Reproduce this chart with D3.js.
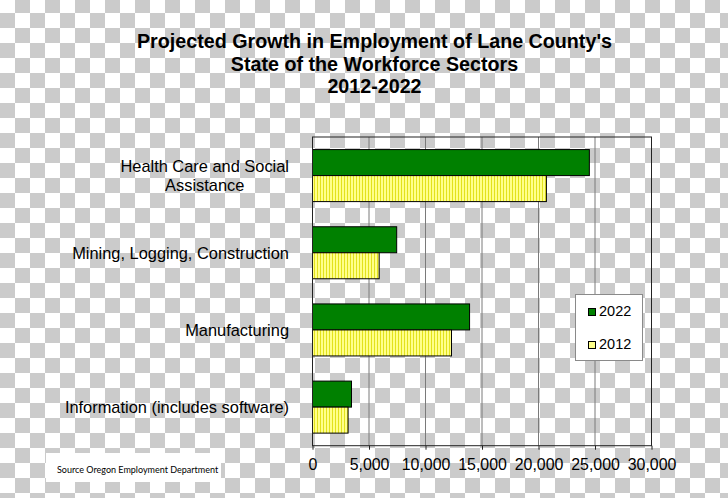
<!DOCTYPE html>
<html>
<head>
<meta charset="utf-8">
<script src="https://cdn.jsdelivr.net/npm/d3@7"></script>
<style>
  html, body { margin: 0; padding: 0; background: #fff; }
  svg { display: block; }
  text { font-family: "Liberation Sans", Arial, sans-serif; fill: #000; }
</style>
</head>
<body>
<div id="chart"></div>
<script>
// ---- data ----
const titleLines = ["Projected Growth in Employment of Lane County's", "State of the Workforce Sectors", "2012-2022"];
const categories = ["Health Care and Social Assistance", "Mining, Logging, Construction", "Manufacturing", "Information (includes software)"];
const categoryLabelLines = [["Health Care and Social", "Assistance"], ["Mining, Logging, Construction"], ["Manufacturing"], ["Information (includes software)"]];
const seriesNames = ["2022", "2012"];
const values2022 = [24500, 7450, 13900, 3450];
const values2012 = [20700, 5900, 12300, 3150];
const xTicks = [0, 5000, 10000, 15000, 20000, 25000, 30000];
const sourceNote = "Source Oregon Employment Department";

(function () {
const W = 728, H = 498;
const svg = d3.select("#chart").append("svg").attr("width", W).attr("height", H);
const defs = svg.append("defs");

// transparency checkerboard
const chk = defs.append("pattern").attr("id", "checker").attr("patternUnits", "userSpaceOnUse")
  .attr("x", 0).attr("y", -2).attr("width", 30).attr("height", 30);
chk.append("rect").attr("width", 30).attr("height", 30).attr("fill", "#ffffff");
chk.append("rect").attr("x", 15).attr("y", 0).attr("width", 15).attr("height", 15).attr("fill", "#cbcbcb");
chk.append("rect").attr("x", 0).attr("y", 15).attr("width", 15).attr("height", 15).attr("fill", "#cbcbcb");

// yellow vertical-line fill
const yp = defs.append("pattern").attr("id", "yellowLines").attr("patternUnits", "userSpaceOnUse")
  .attr("width", 3).attr("height", 10);
yp.append("rect").attr("width", 3).attr("height", 10).attr("fill", "#ffff8a");
yp.append("rect").attr("x", 2).attr("width", 1).attr("height", 10).attr("fill", "#e2e21c");

svg.append("rect").attr("width", W).attr("height", H).attr("fill", "url(#checker)");

// title
svg.append("g").selectAll("text").data(titleLines).join("text")
  .attr("x", 374.5).attr("y", (d, i) => 48 + i * 22.5)
  .attr("text-anchor", "middle").style("font-weight", "bold").style("font-size", "19.7px")
  .text(d => d);

// scales
const pLeft = 312.5, pRight = 651.5, pTop = 137, pBottom = 445.7;
const x = d3.scaleLinear().domain([0, 30000]).range([pLeft, pRight]);
const y = d3.scaleBand().domain(categories).range([pTop, pBottom]).paddingInner(0.326).paddingOuter(0.163);
const ySub = d3.scaleBand().domain(seriesNames).range([0, y.bandwidth()]);
const colors = { "2022": "#008000", "2012": "url(#yellowLines)" };

// gridlines
svg.append("g").selectAll("line").data(xTicks.filter(t => t > 0 && t < 30000)).join("line")
  .attr("x1", d => x(d)).attr("x2", d => x(d)).attr("y1", pTop).attr("y2", pBottom)
  .attr("stroke", "#7a7a7a").attr("stroke-width", 1);

// bars
const rows = categories.map((c, i) => ({ cat: c, vals: [{ s: "2022", v: values2022[i] }, { s: "2012", v: values2012[i] }] }));
const g = svg.append("g").selectAll("g").data(rows).join("g")
  .attr("transform", d => `translate(0,${y(d.cat)})`);
g.selectAll("rect").data(d => d.vals).join("rect")
  .attr("x", x(0)).attr("y", d => ySub(d.s))
  .attr("width", d => x(d.v) - x(0)).attr("height", ySub.bandwidth())
  .attr("fill", d => colors[d.s]).attr("stroke", "#000").attr("stroke-width", 1);

// frame
svg.append("rect").attr("x", pLeft).attr("y", pTop).attr("width", pRight - pLeft).attr("height", pBottom - pTop)
  .attr("fill", "none").attr("stroke", "#222").attr("stroke-width", 1);

// x axis
const ax = svg.append("g").attr("transform", `translate(0,${pBottom})`)
  .call(d3.axisBottom(x).tickValues(xTicks).tickFormat(d3.format(",")).tickSize(4).tickPadding(9.5));
ax.select(".domain").remove();
ax.selectAll("line").attr("stroke", "#222");
ax.selectAll("text").style("font-size", "15.9px").attr("font-family", null);

// category labels
const labelRight = 289;
categories.forEach((c, i) => {
  const lines = categoryLabelLines[i];
  const cy = y(c) + y.bandwidth() / 2;
  const t = svg.append("text").style("font-size", "16.4px");
  const spans = t.selectAll("tspan").data(lines).join("tspan").text(d => d);
  const widths = [];
  spans.each(function () { widths.push(this.getComputedTextLength()); });
  const maxW = d3.max(widths);
  const cx = labelRight - maxW / 2;
  const n = lines.length;
  spans.attr("x", cx).attr("text-anchor", "middle")
    .attr("y", (d, k) => cy + 5.8 + (k - (n - 1) / 2) * 18.5);
});

// legend
const lg = svg.append("g");
lg.append("rect").attr("x", 575.5).attr("y", 294.5).attr("width", 67).attr("height", 66)
  .attr("fill", "#fff").attr("stroke", "#8a8a8a").attr("stroke-width", 1);
const legendY = { "2022": 316, "2012": 349 };
seriesNames.forEach(s => {
  lg.append("rect").attr("x", 588.5).attr("y", legendY[s] - 7.5).attr("width", 7).attr("height", 7)
    .attr("fill", s === "2022" ? "#008000" : "#ffff8a").attr("stroke", "#000").attr("stroke-width", 1);
  lg.append("text").attr("x", 599).attr("y", legendY[s]).style("font-size", "14.5px").text(s);
});

// source note
svg.append("rect").attr("x", 46).attr("y", 453).attr("width", 175).attr("height", 29).attr("fill", "#fff");
svg.append("text").attr("x", 57).attr("y", 473).style("font-family", "Lato, 'Open Sans', sans-serif")
  .style("font-size", "9px").text(sourceNote);
})();
</script>
</body>
</html>
